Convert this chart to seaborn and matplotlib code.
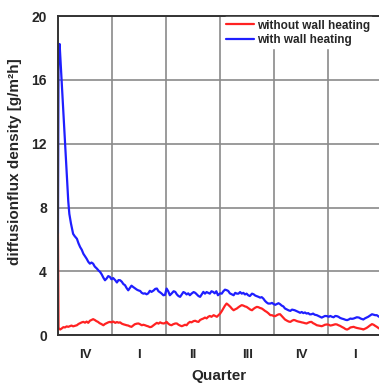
import numpy as np
import pandas as pd
import matplotlib
matplotlib.use("Agg")
import matplotlib.pyplot as plt
import seaborn as sns

# Diffusion flux density (x in quarters from start)
quarter_labels = ["IV", "I", "II", "III", "IV", "I"]

with_x = [0.00, 0.01, 0.03, 0.19, 0.21, 0.24, 0.28, 0.31, 0.35, 0.38, 0.41, 0.44, 0.47, 0.50,
          0.53, 0.56, 0.59, 0.62, 0.65, 0.68, 0.72, 0.75, 0.78, 0.81, 0.84, 0.87, 0.90, 0.93,
          0.96, 0.99, 1.02, 1.06, 1.09, 1.12, 1.15, 1.18, 1.21, 1.24, 1.27, 1.30, 1.33, 1.36,
          1.39, 1.42, 1.46, 1.49, 1.52, 1.55, 1.58, 1.61, 1.64, 1.67, 1.70, 1.73, 1.77, 1.80,
          1.83, 1.86, 1.89, 1.92, 1.95, 1.98, 2.01, 2.04, 2.07, 2.10, 2.14, 2.17, 2.20, 2.23,
          2.26, 2.29, 2.32, 2.35, 2.38, 2.41, 2.44, 2.47, 2.51, 2.54, 2.57, 2.60, 2.63, 2.66,
          2.69, 2.72, 2.75, 2.78, 2.81, 2.84, 2.87, 2.90, 2.93, 2.96, 3.00, 3.03, 3.06, 3.09,
          3.12, 3.15, 3.18, 3.22, 3.25, 3.28, 3.31, 3.34, 3.37, 3.40, 3.43, 3.46, 3.49, 3.52,
          3.55, 3.59, 3.62, 3.65, 3.68, 3.71, 3.74, 3.77, 3.80, 3.83, 3.86, 3.89, 3.93, 3.96,
          3.99, 4.02, 4.05, 4.08, 4.11, 4.14, 4.17, 4.20, 4.24, 4.27, 4.30, 4.33, 4.36, 4.38,
          4.42, 4.45, 4.48, 4.51, 4.54, 4.57, 4.60, 4.63, 4.66, 4.69, 4.72, 4.75, 4.79, 4.82,
          4.85, 4.88, 4.91, 4.94, 4.98, 5.01, 5.04, 5.07, 5.10, 5.13, 5.16, 5.19, 5.22, 5.25,
          5.29, 5.32, 5.35, 5.38, 5.41, 5.44, 5.47, 5.50, 5.53, 5.57, 5.60, 5.63, 5.65, 5.68,
          5.71, 5.74, 5.77, 5.81, 5.84, 5.87, 5.90, 5.94]
with_heating = [6.4, 17.8, 18.25, 8.4, 7.6, 7.0, 6.35, 6.2, 6.04, 5.75, 5.52, 5.35, 5.1, 4.95,
                4.79, 4.6, 4.48, 4.55, 4.48, 4.3, 4.17, 4.05, 3.96, 3.8, 3.6, 3.44, 3.55, 3.7,
                3.65, 3.5, 3.58, 3.44, 3.3, 3.45, 3.44, 3.35, 3.2, 3.13, 2.95, 2.81, 2.95, 3.1,
                3.02, 2.95, 2.85, 2.8, 2.77, 2.65, 2.6, 2.62, 2.56, 2.62, 2.78, 2.71, 2.8, 2.9,
                2.92, 2.75, 2.68, 2.6, 2.5, 2.52, 2.92, 2.75, 2.5, 2.6, 2.75, 2.71, 2.55, 2.45,
                2.4, 2.55, 2.7, 2.65, 2.55, 2.62, 2.5, 2.6, 2.7, 2.65, 2.55, 2.45, 2.4, 2.55,
                2.71, 2.6, 2.7, 2.65, 2.6, 2.75, 2.71, 2.62, 2.75, 2.5, 2.62, 2.6, 2.75, 2.85,
                2.82, 2.77, 2.62, 2.55, 2.5, 2.65, 2.6, 2.6, 2.7, 2.6, 2.65, 2.55, 2.6, 2.5,
                2.45, 2.6, 2.56, 2.48, 2.44, 2.4, 2.35, 2.38, 2.29, 2.15, 2.05, 1.98, 1.98, 2.02,
                1.95, 1.9, 1.95, 2.0, 1.94, 1.85, 1.8, 1.67, 1.6, 1.55, 1.52, 1.6, 1.58, 1.56,
                1.5, 1.45, 1.4, 1.45, 1.38, 1.42, 1.35, 1.38, 1.3, 1.31, 1.35, 1.28, 1.25, 1.2,
                1.15, 1.1, 1.15, 1.2, 1.19, 1.15, 1.2, 1.15, 1.12, 1.2, 1.19, 1.15, 1.08, 1.04,
                1.0, 0.96, 0.94, 0.98, 1.04, 1.02, 1.04, 1.08, 1.12, 1.1, 1.04, 1.0, 0.98, 1.05,
                1.1, 1.15, 1.22, 1.31, 1.28, 1.25, 1.25, 1.15]

without_x = [0.00, 0.01, 0.04, 0.07, 0.10, 0.13, 0.16, 0.19, 0.22, 0.25, 0.28, 0.31, 0.35, 0.38,
             0.41, 0.44, 0.47, 0.50, 0.53, 0.56, 0.59, 0.62, 0.65, 0.68, 0.71, 0.74, 0.77, 0.80,
             0.84, 0.87, 0.90, 0.93, 0.96, 0.99, 1.02, 1.06, 1.09, 1.12, 1.15, 1.18, 1.21, 1.24,
             1.27, 1.30, 1.33, 1.36, 1.39, 1.42, 1.46, 1.49, 1.52, 1.55, 1.58, 1.61, 1.64, 1.67,
             1.70, 1.73, 1.76, 1.80, 1.83, 1.86, 1.89, 1.92, 1.96, 1.99, 2.01, 2.04, 2.07, 2.10,
             2.13, 2.17, 2.20, 2.23, 2.26, 2.29, 2.32, 2.35, 2.38, 2.41, 2.44, 2.47, 2.51, 2.54,
             2.57, 2.60, 2.63, 2.66, 2.69, 2.72, 2.75, 2.78, 2.81, 2.84, 2.88, 2.91, 2.94, 2.97,
             3.00, 3.03, 3.06, 3.09, 3.12, 3.15, 3.19, 3.22, 3.25, 3.28, 3.31, 3.34, 3.37, 3.40,
             3.43, 3.46, 3.49, 3.52, 3.56, 3.59, 3.62, 3.65, 3.68, 3.71, 3.74, 3.77, 3.80, 3.83,
             3.86, 3.89, 3.93, 3.96, 3.99, 4.02, 4.05, 4.08, 4.11, 4.14, 4.17, 4.20, 4.24, 4.27,
             4.30, 4.33, 4.36, 4.38, 4.42, 4.45, 4.48, 4.51, 4.54, 4.57, 4.60, 4.63, 4.66, 4.69,
             4.72, 4.75, 4.79, 4.82, 4.85, 4.88, 4.91, 4.94, 4.98, 5.01, 5.04, 5.07, 5.10, 5.13,
             5.16, 5.19, 5.22, 5.25, 5.29, 5.32, 5.35, 5.38, 5.41, 5.44, 5.47, 5.50, 5.53, 5.57,
             5.60, 5.63, 5.65, 5.68, 5.71, 5.74, 5.77, 5.81, 5.84, 5.87, 5.90, 5.94]
without_heating = [6.4, 0.45, 0.35, 0.42, 0.5, 0.48, 0.55, 0.52, 0.56, 0.6, 0.55, 0.58, 0.62, 0.7,
                   0.75, 0.8, 0.83, 0.78, 0.85, 0.77, 0.9, 0.95, 1.0, 0.95, 0.88, 0.83, 0.75, 0.7,
                   0.62, 0.7, 0.75, 0.8, 0.83, 0.8, 0.85, 0.77, 0.82, 0.78, 0.8, 0.72, 0.68, 0.65,
                   0.62, 0.6, 0.55, 0.52, 0.6, 0.68, 0.72, 0.73, 0.68, 0.62, 0.65, 0.62, 0.58, 0.55,
                   0.5, 0.52, 0.6, 0.7, 0.77, 0.72, 0.8, 0.75, 0.73, 0.78, 0.83, 0.72, 0.65, 0.62,
                   0.68, 0.73, 0.73, 0.65, 0.6, 0.56, 0.6, 0.65, 0.62, 0.75, 0.83, 0.8, 0.88, 0.9,
                   0.85, 0.83, 0.95, 1.0, 1.04, 1.1, 1.05, 1.15, 1.2, 1.15, 1.25, 1.2, 1.15, 1.25,
                   1.35, 1.5, 1.67, 1.85, 1.98, 1.9, 1.77, 1.65, 1.56, 1.62, 1.67, 1.75, 1.82, 1.88,
                   1.85, 1.8, 1.77, 1.7, 1.6, 1.56, 1.65, 1.72, 1.77, 1.75, 1.7, 1.67, 1.6, 1.52,
                   1.46, 1.38, 1.25, 1.25, 1.2, 1.19, 1.25, 1.3, 1.31, 1.2, 1.08, 0.98, 0.9, 0.85,
                   0.83, 0.9, 0.95, 0.94, 0.88, 0.85, 0.83, 0.8, 0.78, 0.75, 0.73, 0.78, 0.82, 0.83,
                   0.75, 0.7, 0.62, 0.6, 0.58, 0.56, 0.6, 0.65, 0.67, 0.65, 0.6, 0.62, 0.65, 0.68,
                   0.67, 0.62, 0.58, 0.52, 0.45, 0.38, 0.35, 0.4, 0.48, 0.5, 0.52, 0.48, 0.45, 0.42,
                   0.4, 0.38, 0.35, 0.4, 0.45, 0.52, 0.6, 0.69, 0.65, 0.58, 0.52, 0.42]

sns.set_style("white")
plt.rcParams['font.family'] = ['Liberation Sans', 'DejaVu Sans']
plt.rcParams['font.weight'] = 'bold'

fig = plt.figure(figsize=(3.79, 3.83), dpi=100)
ax = fig.add_axes([0.153, 0.125, 0.847, 0.833])

sns.lineplot(x=without_x, y=without_heating, color='#ff2222', linewidth=1.6,
             label='without wall heating', ax=ax, sort=False)
sns.lineplot(x=with_x, y=with_heating, color='#1f1fff', linewidth=1.6,
             label='with wall heating', ax=ax, sort=False)

ax.set_xlim(0, 5.94)
ax.set_ylim(0, 20)
ax.set_yticks([0, 4, 8, 12, 16, 20])
ax.set_yticklabels(['0', '4', '8', '12', '16', '20'], fontsize=10, fontweight='bold')

# gridlines on quarter boundaries, labels in the middle of each quarter
ax.set_xticks([1, 2, 3, 4, 5])
ax.set_xticklabels([])
ax.set_xticks([0.5, 1.5, 2.5, 3.5, 4.5, 5.5], minor=True)
ax.set_xticklabels(quarter_labels, minor=True, fontsize=9.5, fontweight='bold')
ax.tick_params(axis='x', which='both', length=0, pad=10)
ax.tick_params(axis='y', length=0, pad=8)

ax.grid(True, which='major', color='#8a8a8a', linewidth=1.2)
ax.set_axisbelow(True)

for side in ['left', 'bottom', 'top']:
    ax.spines[side].set_color('#333333')
    ax.spines[side].set_linewidth(1.4)
ax.spines['right'].set_visible(False)

ax.set_xlabel('Quarter', fontsize=11, fontweight='bold')
ax.set_ylabel('diffusionflux density [g/m²h]', fontsize=11, fontweight='bold')
ax.xaxis.set_label_coords(0.5, -0.105)
ax.yaxis.set_label_coords(-0.112, 0.545)

leg = ax.legend(loc='upper right', frameon=True, fontsize=8.5, handlelength=2.4,
                handletextpad=0.3, labelspacing=0.2, borderaxespad=0.1,
                borderpad=0.2, bbox_to_anchor=(0.985, 1.0))
leg.get_frame().set_edgecolor('white')
leg.get_frame().set_facecolor('white')
leg.get_frame().set_alpha(1.0)
for t in leg.get_texts():
    t.set_fontweight('bold')

fig.savefig('out.png', dpi=100)
